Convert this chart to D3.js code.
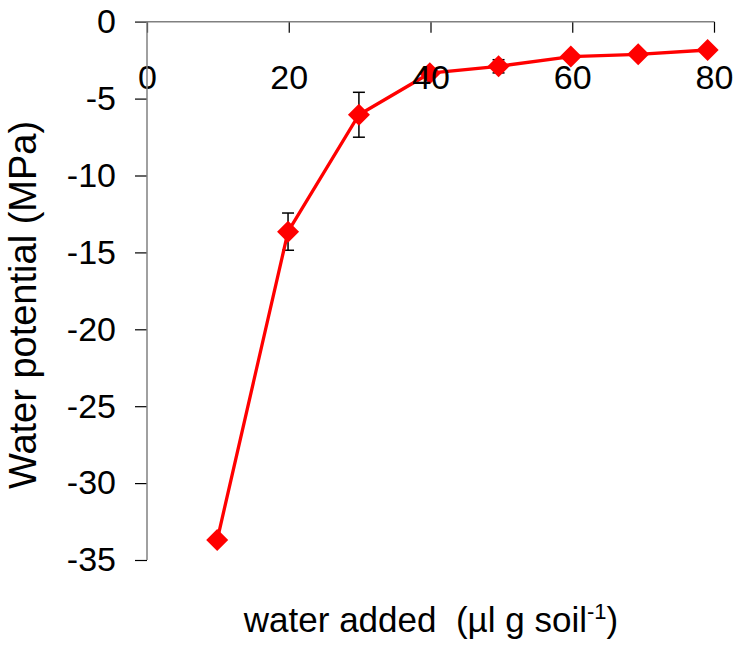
<!DOCTYPE html>
<html>
<head>
<meta charset="utf-8">
<script src="https://cdn.jsdelivr.net/npm/d3@7"></script>
<style>
  body { margin: 0; background: #fff; }
  svg text { font-family: "Liberation Sans", Arial, sans-serif; fill: #000; }
</style>
</head>
<body>
<svg width="737" height="650"></svg>
<script>
// water added (ul / g soil)
const waterAdded = [9.9, 19.9, 29.9, 39.9, 49.6, 59.8, 69.3, 79.1];
// water potential (MPa)
const potential  = [-33.7, -13.65, -6.05, -3.35, -2.9, -2.27, -2.12, -1.84];
const errBar     = [0, 1.21, 1.46, 0.2, 0.43, 0.15, 0.15, 0.15];
const xTicks     = [0, 20, 40, 60, 80];
const yTicks     = [0, -5, -10, -15, -20, -25, -30, -35];

const svg = d3.select("svg");
const data = waterAdded.map((d, i) => ({x: d, y: potential[i], e: errBar[i]}));

const x = d3.scaleLinear().domain([0, 80]).range([147, 714]),
      y = d3.scaleLinear().domain([-35, 0]).range([560, 21.7]);

// error bars
const eb = svg.append("g").attr("stroke", "#000").attr("stroke-width", 1.5);
data.filter(d => d.e > 0).forEach(d => {
  eb.append("line").attr("x1", x(d.x)).attr("x2", x(d.x))
    .attr("y1", y(d.y + d.e)).attr("y2", y(d.y - d.e));
  [d.y + d.e, d.y - d.e].forEach(v => {
    eb.append("line").attr("x1", x(d.x) - 6).attr("x2", x(d.x) + 6)
      .attr("y1", y(v)).attr("y2", y(v));
  });
});

// line + diamonds
svg.append("path")
    .datum(data)
    .attr("fill", "none")
    .attr("stroke", "#ff0000")
    .attr("stroke-width", 3.3)
    .attr("d", d3.line().x(d => x(d.x)).y(d => y(d.y)));

svg.selectAll(".pt")
  .data(data)
  .enter().append("path")
    .attr("class", "pt")
    .attr("fill", "#ff0000")
    .attr("transform", d => `translate(${x(d.x)},${y(d.y)})`)
    .attr("d", "M0,-11L11,0L0,11L-11,0Z");

// axes (plain hyphen for minus, like the original)
const yAxis = svg.append("g")
    .attr("transform", `translate(${x(0)},0)`)
    .call(d3.axisLeft(y).tickValues(yTicks).tickFormat(d => String(d)).tickSize(12).tickPadding(19));
const xAxis = svg.append("g")
    .attr("transform", `translate(0,${y(0)})`)
    .call(d3.axisBottom(x).tickValues(xTicks).tickFormat(d => String(d)).tickSize(11).tickPadding(32));

[yAxis, xAxis].forEach(a => {
  a.select(".domain").remove();
  a.selectAll("line").attr("stroke", "#000").attr("stroke-width", 1.2);
  a.selectAll("text").style("font-size", "34px").attr("fill", "#000");
});

// axis lines in grey
svg.append("line").attr("x1", x(0)).attr("x2", x(0)).attr("y1", y(0)).attr("y2", y(-35))
   .attr("stroke", "#808080").attr("stroke-width", 1.5);
svg.append("line").attr("x1", x(0) - 12).attr("x2", x(80)).attr("y1", y(0)).attr("y2", y(0))
   .attr("stroke", "#808080").attr("stroke-width", 1.5);

// axis titles
svg.append("text")
    .attr("transform", "translate(36,305) rotate(-90)")
    .attr("text-anchor", "middle")
    .style("font-size", "38px")
    .text("Water potential (MPa)");

const xl = svg.append("text")
    .attr("x", 431).attr("y", 632)
    .attr("text-anchor", "middle")
    .style("font-size", "35px")
    .attr("xml:space", "preserve");
xl.append("tspan").text("water added  (\u00b5l g soil");
xl.append("tspan").style("font-size", "22px").attr("dy", -13).text("-1");
xl.append("tspan").attr("dy", 13).text(")");
</script>
</body>
</html>
